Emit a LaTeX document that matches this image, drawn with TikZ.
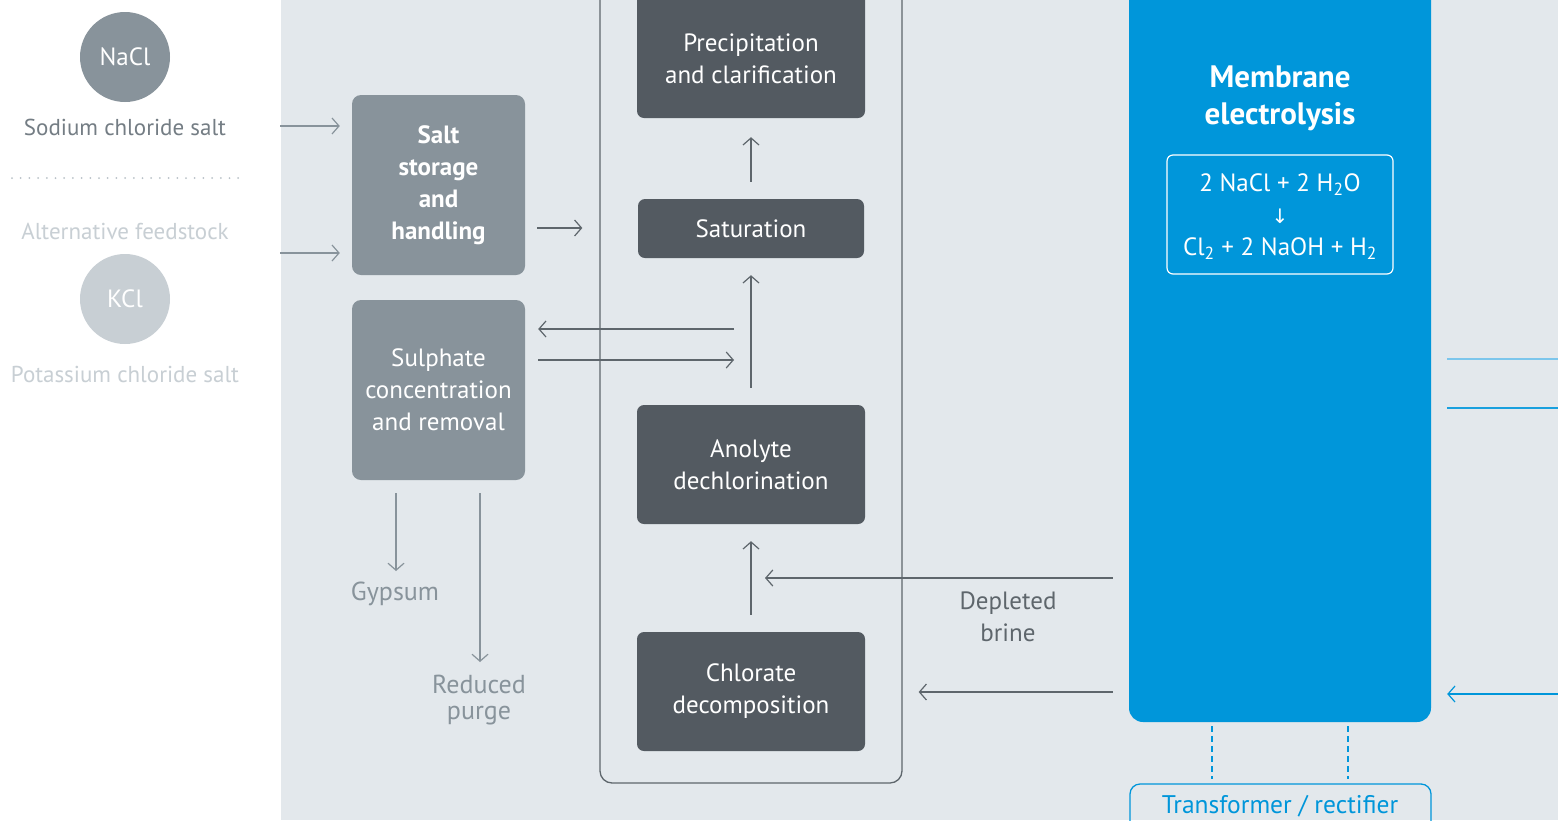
\documentclass[tikz,border=0pt]{standalone}
\usepackage{fontspec}
\setmainfont{PT Sans}
\newfontfamily\symfont{DejaVu Sans}
\usetikzlibrary{arrows.meta}
\definecolor{bgc}{HTML}{E3E8EC}
\definecolor{midgrey}{HTML}{88939B}
\definecolor{darkbox}{HTML}{535A61}
\definecolor{linegrey}{HTML}{5E666C}
\definecolor{lightgrey}{HTML}{C8CFD4}
\definecolor{dotgrey}{HTML}{B9C1C7}
\definecolor{mblue}{HTML}{0096DA}
\definecolor{paleblue}{HTML}{7CC6EC}
\tikzset{
  arr/.style={draw=linegrey, line width=1.2pt, -{Straight Barb[length=7pt,width=16pt,line width=1.2pt]}},
  garr/.style={arr, draw=midgrey},
  barr/.style={arr, draw=mblue},
  greybox/.style={rectangle, rounded corners=9pt, fill=midgrey, inner sep=0pt, align=center, text=white},
  darkboxs/.style={rectangle, rounded corners=7pt, fill=darkbox, inner sep=0pt, align=center, text=white},
  txt/.style={font=\fontsize{25}{32}\selectfont},
  lbl/.style={font=\fontsize{23}{26}\selectfont, align=center},
  disc/.style={circle, minimum size=90pt, inner sep=0pt, text=white, font=\fontsize{25}{28}\selectfont}
}
\begin{document}
\begin{tikzpicture}[x=1pt,y=-1pt]
\useasboundingbox (0,0) rectangle (1558,820);
\clip (0,0) rectangle (1558,820);
\fill[white] (0,0) rectangle (281,820);
\fill[bgc] (281,0) rectangle (1558,820);

% left feedstock column
\node[disc, fill=midgrey] (nacl) at (125,57) {NaCl};
\node[lbl, text=midgrey!85!black] (naclt) at (125,127) {Sodium chloride salt};
\coordinate (dotl) at (12,178);
\coordinate (dotr) at (240,178);
\draw[dotgrey, line width=2pt, line cap=round, dash pattern=on 0pt off 8.7pt] (dotl) -- (dotr);
\node[lbl, text=lightgrey] (altt) at (125,231) {Alternative feedstock};
\node[disc, fill=lightgrey] (kcl) at (125,299) {KCl};
\node[lbl, text=lightgrey] (kclt) at (125,374) {Potassium chloride salt};

% grey boxes
\node[greybox, txt, minimum width=173pt, minimum height=180pt] (salt) at (438.5,185) {\bfseries Salt\\\bfseries storage\\\bfseries and\\\bfseries handling};
\node[greybox, txt, minimum width=173pt, minimum height=180pt] (sulph) at (438.5,390) {Sulphate\\concentration\\and removal};

% column frame
\node[draw=linegrey, line width=1.3pt, rounded corners=12pt, minimum width=302pt, minimum height=803pt, inner sep=0pt] (frame) at (751,381.5) {};

% dark boxes
\node[darkboxs, minimum width=228pt, minimum height=138pt] (precbox) at (751,49) {};
\node[txt, text=white, align=center] (prec) at (751,59) {Precipitation\\and clarification};
\node[darkboxs, txt, minimum width=226pt, minimum height=59pt] (sat) at (751,228.5) {Saturation};
\node[darkboxs, txt, minimum width=228pt, minimum height=119pt] (anol) at (751,464.5) {Anolyte\\dechlorination};
\node[darkboxs, txt, minimum width=228pt, minimum height=119pt] (chlor) at (751,691.5) {Chlorate\\decomposition};

% membrane electrolysis
\node[rectangle, rounded corners=14pt, fill=mblue, minimum width=302pt, minimum height=742pt, inner sep=0pt] (mem) at (1280,351) {};
\node[text=white, align=center, font=\fontsize{31}{37}\selectfont\bfseries] (memt) at (1280,98) {Membrane\\electrolysis};
\node[draw=white, line width=1.2pt, rounded corners=6pt, minimum width=226pt, minimum height=119pt, inner sep=0pt] (formbox) at (1280,214.5) {};
\node[txt, text=white, align=center] (form) at (1280,217) {2 NaCl + 2 H\textsubscript{2}O\\{\symfont\fontsize{20}{32}\selectfont ↓}\\Cl\textsubscript{2} + 2 NaOH + H\textsubscript{2}};

% transformer
\node[draw=mblue, line width=1.3pt, rounded corners=10pt, minimum width=301pt, minimum height=66pt, inner sep=0pt] (trbox) at (1280.5,817) {};
\node[text=mblue, font=\fontsize{25.5}{32}\selectfont] (tr) at (1280,806) {Transformer / rectifier};

% output labels
\node[text=midgrey, font=\fontsize{26}{26}\selectfont] (gyp) at (395,594) {Gypsum};
\node[text=midgrey, align=center, font=\fontsize{26}{26}\selectfont] (purge) at (479,700) {Reduced\\purge};
\node[text=linegrey, align=center, font=\fontsize{25}{32}\selectfont] (dep) at (1008,617) {Depleted\\brine};

% feed arrows
\coordinate (in1) at (280,126);
\coordinate (in2) at (280,253);
\draw[garr, shorten >=12pt] (in1) -- (salt.west |- in1);
\draw[garr, shorten >=12pt] (in2) -- (salt.west |- in2);
\coordinate (s1) at (525,228);
\draw[arr, shorten <=12pt, shorten >=17pt] (salt.east |- s1) -- (frame.west |- s1);

% sulphate loop
\coordinate (j1) at (751,329);
\coordinate (j2) at (751,360);
\draw[arr, shorten <=17pt, shorten >=13pt] (j1) -- (sulph.east |- j1);
\draw[arr, shorten <=13pt, shorten >=17pt] (sulph.east |- j2) -- (j2);

% vertical arrows
\draw[arr, shorten <=17pt, shorten >=17pt] (anol.north) -- (sat.south);
\draw[arr, shorten <=17pt, shorten >=19pt] (sat.north) -- (precbox.south);
\draw[arr, shorten <=17pt, shorten >=17pt] (chlor.north) -- (anol.south);

% depleted brine arrows
\coordinate (j3) at (751,578);
\coordinate (j4) at (751,692);
\draw[arr, shorten <=16pt, shorten >=14pt] (mem.west |- j3) -- (j3);
\draw[arr, shorten <=16pt, shorten >=16pt] (mem.west |- j4) -- (frame.east |- j4);

% outputs
\coordinate (g1) at (396,480);
\coordinate (p1) at (480,480);
\coordinate (g2) at (396,571);
\draw[garr, shorten <=13pt] (sulph.south -| g1) -- (g2);
\coordinate (p2) at (480,662);
\draw[garr, shorten <=13pt] (sulph.south -| p1) -- (p2);

% right side lines
\coordinate (r1) at (1558,359);
\coordinate (r2) at (1558,408);
\coordinate (r3) at (1558,694);
\draw[paleblue, line width=1.3pt, shorten <=16pt] (mem.east |- r1) -- (r1);
\draw[mblue!90!white, line width=1.3pt, shorten <=16pt] (mem.east |- r2) -- (r2);
\draw[barr, shorten >=16pt] (r3) -- (mem.east |- r3);

% dashed links
\coordinate (d1) at (1212,722);
\coordinate (d2) at (1348,722);
\draw[mblue, line width=1.4pt, dash pattern=on 6pt off 4pt, shorten <=4pt, shorten >=4pt] (mem.south -| d1) -- (trbox.north -| d1);
\draw[mblue, line width=1.4pt, dash pattern=on 6pt off 4pt, shorten <=4pt, shorten >=4pt] (mem.south -| d2) -- (trbox.north -| d2);
\end{tikzpicture}
\end{document}
